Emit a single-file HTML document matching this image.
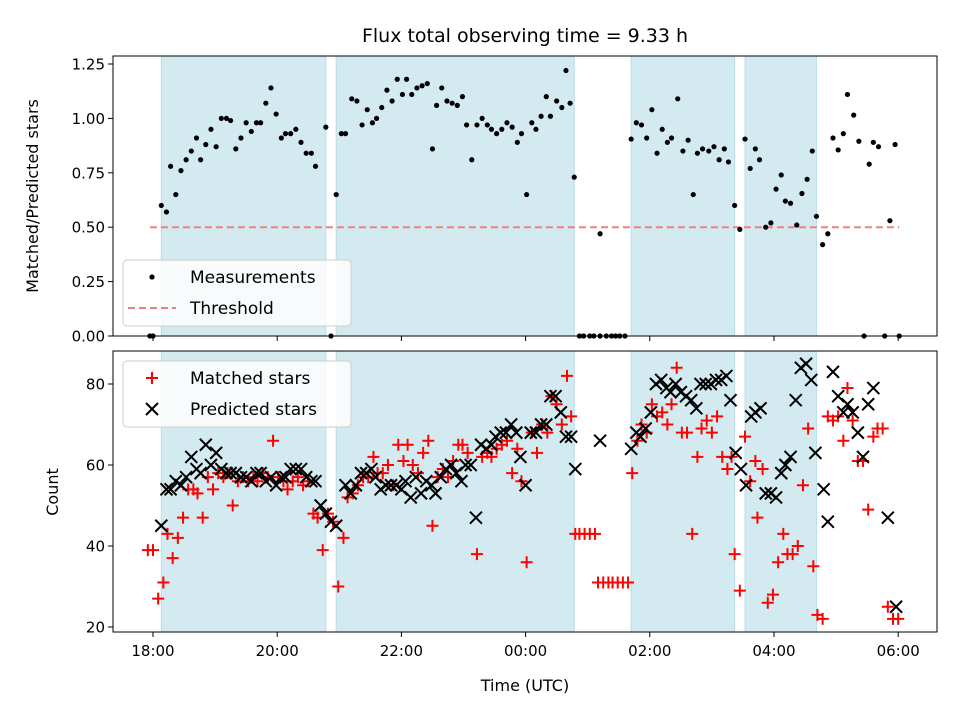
<!DOCTYPE html>
<html><head><meta charset="utf-8"><style>
body{margin:0;background:#fff}
svg text{font-family:"DejaVu Sans","Liberation Sans",sans-serif;fill:#000}
</style></head><body>
<svg id="chart" width="960" height="720" xmlns="http://www.w3.org/2000/svg">
<text x="525" y="42" font-size="19" text-anchor="middle">Flux total observing time = 9.33 h</text>
<text transform="translate(38,196) rotate(-90)" font-size="16" text-anchor="middle">Matched/Predicted stars</text>
<text transform="translate(58,492) rotate(-90)" font-size="16" text-anchor="middle">Count</text>
<text x="525" y="691" font-size="16" text-anchor="middle">Time (UTC)</text>
<g id="gTop"></g><g id="gBot"></g>
</svg>
<script>
// times in minutes since 18:00
const spans=[[8,167],[177,407],[462,562],[572,641]];
const xTickLabels=["18:00","20:00","22:00","00:00","02:00","04:00","06:00"];
const xTickMinutes=[0,120,240,360,480,600,720];
const topTicks=[0,0.25,0.5,0.75,1.0,1.25];
const botTicks=[20,40,60,80];
const threshold=0.5;
const thresholdRange=[-3,721];
const ratioTimes=[-3,0,8,13,17,22,27,32,37,42,46,51,56,61,66,71,75,80,85,90,95,100,104,109,114,119,124,128,133,138,143,148,153,157,167,172,177,182,186,192,197,202,207,212,216,221,226,231,236,241,245,250,255,260,265,270,274,279,284,289,294,299,303,308,313,318,323,327,332,337,342,347,352,356,361,366,370,375,380,384,390,395,399,403,407,412,416,422,426,432,432,438,443,447,451,456,462,467,472,477,482,487,492,497,501,507,512,517,522,526,531,537,542,547,552,556,562,567,572,577,582,586,592,597,602,607,611,616,622,627,632,637,641,647,652,657,662,667,671,677,682,687,692,696,701,707,712,717,721];
const ratioValues=[0,0,.60,.57,.78,.65,.76,.81,.85,.91,.81,.88,.95,.87,1.0,1.0,.99,.86,.91,.98,.94,.98,.98,1.07,1.14,1.02,.91,.93,.93,.95,.89,.84,.84,.78,.96,0,.65,.93,.93,1.09,1.08,.97,1.04,.98,1.0,1.05,1.13,1.08,1.18,1.11,1.18,1.11,1.14,1.15,1.16,.86,1.06,1.14,1.08,1.07,1.06,1.10,.97,.81,.97,1.0,.97,.95,.93,.95,.98,.96,.89,.93,.65,.98,.95,1.01,1.10,1.01,1.08,1.05,1.22,1.07,.73,0,0,0,0,.47,0,0,0,0,0,0,.905,.98,.97,.91,1.04,.84,.95,.89,.91,1.09,.85,.90,.65,.84,.86,.85,.87,.81,.86,.80,.60,.49,.905,.77,.86,.81,.50,.52,.675,.74,.62,.61,.51,.655,.72,.85,.55,.42,.47,.91,.855,.93,1.11,1.015,.895,0,.79,.89,.87,0,.53,.88,0];
const matchedTimes=[-5,0,5,10,14,19,24,29,34,39,43,48,53,58,63,68,72,77,82,87,92,97,101,106,111,116,121,126,130,135,140,145,150,155,159,164,169,174,179,184,188,193,198,203,208,213,217,222,227,232,237,242,246,251,256,261,266,270,275,280,285,290,295,299,304,313,318,323,327,332,337,342,347,352,356,361,366,371,376,381,385,390,395,400,404,408,412,417,422,427,430,435,440,444,449,454,459,463,468,472,477,482,487,492,497,501,506,511,516,521,526,530,535,540,545,550,555,559,562,567,572,577,582,584,589,594,599,604,609,613,618,623,628,633,638,642,647,652,657,662,667,671,676,681,686,691,696,700,705,710,715,720];
const matchedValues=[39,39,27,31,43,37,42,47,54,54,53,47,57,54,58,57,58,50,56,57,56,57,56,58,57,66,57,56,54,56,57,55,56,48,47,39,48,46,30,42,52,53,55,57,57,62,58,58,60,55,65,61,65,60,58,63,66,45,57,59,57,61,65,65,63,38,62,63,62,64,65,66,58,64,56,36,68,63,70,68,77,75,70,82,72,43,43,43,43,43,31,31,31,31,31,31,31,58,66,70,68,75,72,73,70,75,84,68,68,43,62,69,71,68,72,62,59,62,38,29,67,56,61,47,59,26,28,36,43,38,38,40,55,69,35,23,22,72,71,72,66,79,71,61,61,49,67,69,69,25,22,22];
const predictedTimes=[8,13,17,22,27,32,37,42,46,51,56,61,66,71,75,80,85,90,95,100,104,109,114,119,124,128,133,138,143,148,153,157,162,167,172,177,186,191,196,201,206,211,215,220,225,230,235,240,244,249,254,259,264,269,273,278,283,288,293,298,302,307,312,317,322,327,331,336,341,346,351,355,360,365,370,375,380,384,389,394,399,404,408,432,462,467,471,476,481,486,491,496,500,505,510,515,520,525,529,534,539,544,549,554,558,563,568,573,578,582,587,592,597,602,607,611,616,621,626,631,636,640,648,652,657,662,667,671,676,681,686,691,696,710,718];
const predictedValues=[45,54,54,56,55,57,62,59,58,65,60,63,59,58,58,58,57,57,56,58,58,56,57,55,57,57,59,59,59,57,56,56,50,48,46,45,55,53,55,58,58,59,57,54,55,55,55,54,56,52,57,53,56,55,53,57,59,60,58,56,60,60,47,65,64,65,67,68,68,70,68,62,55,68,68,70,70,77,77,73,67,67,59,66,64,68,67,69,73,80,81,79,78,80,78,77,76,74,80,80,80,81,81,82,76,63,59,55,72,73,74,53,53,52,58,60,62,76,84,85,81,63,54,46,83,77,73,75,73,68,62,75,79,47,25];

const NS="http://www.w3.org/2000/svg";
const L=113,R=937,xMin=-38.65,xMax=757.5;
const X=m=>L+(m-xMin)/(xMax-xMin)*(R-L);
const T={top:56,bot:336,lo:0,hi:1.2868};
const B={top:351,bot:632,lo:18.77,hi:88.15};
const Y=(p,v)=>p.bot-(v-p.lo)/(p.hi-p.lo)*(p.bot-p.top);
function mk(par,tag,at){const e=document.createElementNS(NS,tag);for(const k in at)e.setAttribute(k,at[k]);par.appendChild(e);return e;}

function panel(g,p,name,ticks,fmt,showX){
  for(const s of spans){
    const r=mk(g,'rect',{x:X(s[0]),y:p.top,width:X(s[1])-X(s[0]),height:p.bot-p.top,fill:'#d4eaf1',stroke:'#b9dde8','stroke-width':1});
    
    
  }
  for(const v of ticks){
    const y=Y(p,v);
    mk(g,'line',{x1:L-5,x2:L,y1:y,y2:y,stroke:'#000','stroke-width':1});
    const t=mk(g,'text',{x:L-8,y:y+5.5,'font-size':15,'text-anchor':'end'});t.textContent=fmt(v);
    
    
  }
  xTickMinutes.forEach((m,i)=>{
    const x=X(m);
    mk(g,'line',{x1:x,x2:x,y1:p.bot,y2:p.bot+5,stroke:'#000','stroke-width':1});
    if(showX){const t=mk(g,'text',{x:x,y:p.bot+24,'font-size':15,'text-anchor':'middle'});t.textContent=xTickLabels[i];
      
      }
  });
}
const gT=document.getElementById('gTop'),gB=document.getElementById('gBot');
panel(gT,T,'top',topTicks,v=>v.toFixed(2),false);
panel(gB,B,'bottom',botTicks,v=>String(v),true);

const th=mk(gT,'line',{x1:X(thresholdRange[0]),x2:X(thresholdRange[1]),y1:Y(T,threshold),y2:Y(T,threshold),stroke:'#f08080','stroke-width':2,'stroke-dasharray':'7,4'});


ratioTimes.forEach((m,i)=>{
  const c=mk(gT,'circle',{cx:X(m),cy:Y(T,ratioValues[i]),r:2.6,fill:'#000'});
  
  
});
matchedTimes.forEach((m,i)=>{
  const x=X(m),y=Y(B,matchedValues[i]);
  const p=mk(gB,'path',{d:`M${x-6},${y}H${x+6}M${x},${y-6}V${y+6}`,stroke:'#ff0000','stroke-width':2,fill:'none'});
  
  
});
predictedTimes.forEach((m,i)=>{
  const x=X(m),y=Y(B,predictedValues[i]);
  const p=mk(gB,'path',{d:`M${x-6},${y-6}L${x+6},${y+6}M${x-6},${y+6}L${x+6},${y-6}`,stroke:'#000','stroke-width':2,fill:'none'});
  
  
});
for(const [g,p,n] of [[gT,T,'top-axes-frame'],[gB,B,'bottom-axes-frame']]){
  const r=mk(g,'rect',{x:L,y:p.top,width:R-L,height:p.bot-p.top,fill:'none',stroke:'#000','stroke-width':1});
  
  
}
// legends
function legend(g,y0,name,items){
  const box=mk(g,'rect',{x:123,y:y0,width:228,height:66,rx:4,fill:'rgba(255,255,255,0.8)',stroke:'#ccc','stroke-width':1});
  
  
  items.forEach((it,i)=>{
    const cy=y0+17+i*31, cx=152;
    if(it.k==='dot') mk(g,'circle',{cx:cx,cy:cy,r:2.6,fill:'#000'});
    if(it.k==='dash') mk(g,'line',{x1:cx-24,x2:cx+24,y1:cy,y2:cy,stroke:'#f08080','stroke-width':2,'stroke-dasharray':'7,4'});
    if(it.k==='plus') mk(g,'path',{d:`M${cx-6},${cy}H${cx+6}M${cx},${cy-6}V${cy+6}`,stroke:'#f00','stroke-width':2});
    if(it.k==='x') mk(g,'path',{d:`M${cx-6},${cy-6}L${cx+6},${cy+6}M${cx-6},${cy+6}L${cx+6},${cy-6}`,stroke:'#000','stroke-width':2});
    const t=mk(g,'text',{x:190,y:cy+6,'font-size':17});t.textContent=it.t;
    
    
  });
}
legend(gT,260,'top-legend',[{k:'dot',t:'Measurements'},{k:'dash',t:'Threshold'}]);
legend(gB,361,'bottom-legend',[{k:'plus',t:'Matched stars'},{k:'x',t:'Predicted stars'}]);
</script>
</body></html>
